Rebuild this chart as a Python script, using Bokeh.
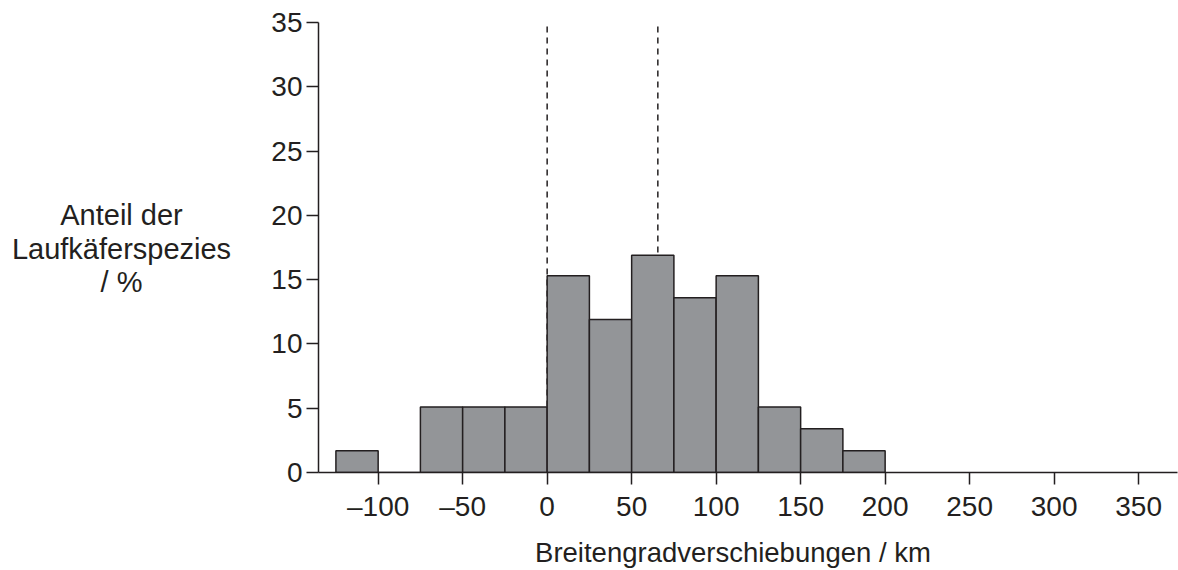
from bokeh.plotting import figure
from bokeh.layouts import row, column
from bokeh.models import Range1d, FixedTicker, ColumnDataSource
from bokeh.core.properties import value
from bokeh.embed import file_html
from bokeh.resources import INLINE

# Data (percentage of ground beetle species per 25 km latitudinal shift bin)
bin_left = [-125, -100, -75, -50, -25, 0, 25, 50, 75, 100, 125, 150, 175]
bin_right = [-100, -75, -50, -25, 0, 25, 50, 75, 100, 125, 150, 175, 200]
share = [1.7, 0.0, 5.1, 5.1, 5.1, 15.3, 11.9, 16.9, 13.6, 15.3, 5.1, 3.4, 1.7]
ref_lines = [0, 65.5]
x_ticks = [-100, -50, 0, 50, 100, 150, 200, 250, 300, 350]
x_tick_labels = ["–100", "–50", "0", "50", "100", "150", "200", "250", "300", "350"]
y_ticks = [0, 5, 10, 15, 20, 25, 30, 35]

ylabel_lines = ["Anteil der", "Laufkäferspezies", "/ %"]
xlabel = "Breitengradverschiebungen / km"

INK = "#231f20"
FILL = "#939598"
FONT = "Liberation Sans"

W = 1178
H_TOP = 524          # height of the row holding the plot
H_BOT = 570 - H_TOP  # strip holding the x-axis title
LW = 260             # width of the label panel on the left
TOP, BOT = 22, 52

yr = Range1d(0, 35)

# ---- left panel holding the horizontal y-axis title (shares the y scale) ----
lab = figure(width=LW, height=H_TOP, output_backend="svg", toolbar_location=None,
             x_range=Range1d(0, LW), y_range=yr,
             x_axis_type=None, y_axis_type=None,
             min_border_left=0, min_border_right=0, min_border_top=TOP, min_border_bottom=BOT)
lab.outline_line_color = None
lab.xgrid.visible = False
lab.ygrid.visible = False
lab.text(x=[121, 121, 121], y=[20.05, 17.35, 14.8], text=ylabel_lines,
         text_align="center", text_baseline="alphabetic",
         text_font=value(FONT), text_font_size="29px", text_color=INK)

# ---- main histogram ----
p = figure(width=W - LW, height=H_TOP, output_backend="svg", toolbar_location=None,
           x_range=Range1d(-135.3, 373.0), y_range=yr,
           min_border_left=318 - LW, min_border_right=1, min_border_top=TOP, min_border_bottom=BOT)
p.outline_line_color = None
p.xgrid.visible = False
p.ygrid.visible = False

# dashed reference lines (behind bars)
p.segment(x0=ref_lines, y0=[0] * len(ref_lines), x1=ref_lines, y1=[35] * len(ref_lines),
          line_color=INK, line_width=1.5, line_dash="6 5")

src = ColumnDataSource(dict(left=bin_left, right=bin_right, top=share, bottom=[0] * len(share)))
p.quad(left="left", right="right", top="top", bottom="bottom", source=src,
       fill_color=FILL, line_color=INK, line_width=1.5)

for ax in (p.xaxis[0], p.yaxis[0]):
    ax.axis_line_color = INK
    ax.axis_line_width = 1.5
    ax.major_tick_line_color = INK
    ax.major_tick_line_width = 1.5
    ax.major_tick_in = 0
    ax.major_tick_out = 12
    ax.minor_tick_line_color = None
    ax.major_label_text_font = FONT
    ax.major_label_text_font_size = "28px"
    ax.major_label_text_color = INK

p.xaxis[0].ticker = FixedTicker(ticks=x_ticks)
p.xaxis[0].major_label_overrides = {t: l for t, l in zip(x_ticks, x_tick_labels)}
p.xaxis[0].major_label_standoff = 6
p.yaxis[0].ticker = FixedTicker(ticks=y_ticks)
p.yaxis[0].major_label_standoff = 4

# ---- bottom strip holding the x-axis title ----
bot = figure(width=W, height=H_BOT, output_backend="svg", toolbar_location=None,
             x_range=Range1d(0, W), y_range=Range1d(0, H_BOT),
             x_axis_type=None, y_axis_type=None,
             min_border_left=0, min_border_right=0, min_border_top=0, min_border_bottom=0)
bot.outline_line_color = None
bot.xgrid.visible = False
bot.ygrid.visible = False
bot.text(x=[732.5], y=[18], text=[xlabel], text_align="center", text_baseline="alphabetic",
         text_font=value(FONT), text_font_size="27.5px", text_color=INK)

layout = column(row(lab, p, spacing=0), bot, spacing=0)
open("out.html", "w").write(file_html(layout, INLINE))
